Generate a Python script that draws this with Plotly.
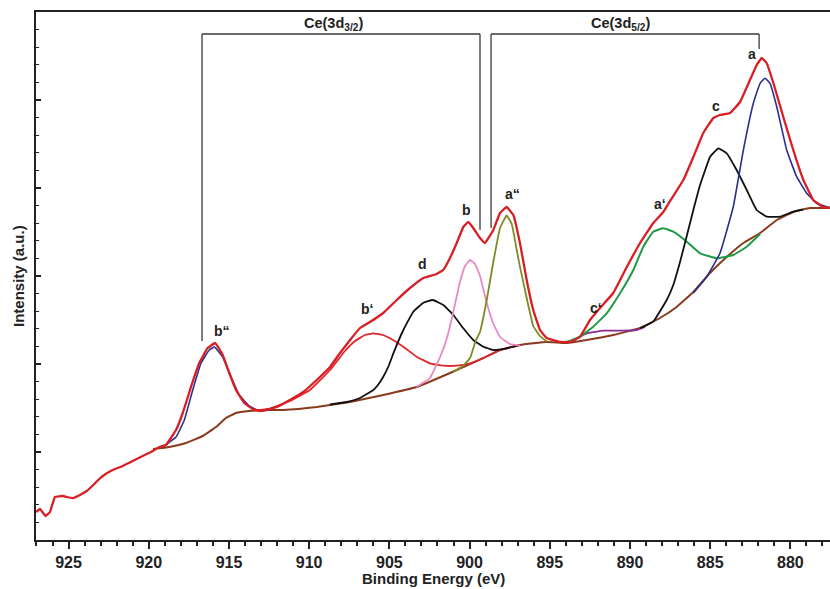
import plotly.graph_objects as go

# ---- Ce 3d XPS spectrum: binding energy (eV) vs intensity (a.u.) ----
env_e = [927.03, 926.78, 926.43, 926.16, 925.85, 925.33, 925.12, 924.70, 924.29, 923.87,
         923.46, 923.15, 922.87, 922.25, 921.62, 921.00, 920.38, 919.86, 919.34, 918.93,
         918.30, 917.88, 917.37, 916.85, 916.33, 915.85, 915.39, 914.98, 914.56, 914.04,
         913.52, 913.00, 912.49, 912.02, 911.20, 910.37, 909.53, 908.70, 908.08, 907.45,
         906.83, 906.21, 905.38, 904.54, 903.71, 902.88, 902.05, 901.64, 901.22, 900.80,
         900.39, 900.08, 899.77, 899.35, 899.04, 898.52, 898.10, 897.69, 897.27, 896.86,
         896.44, 896.03, 895.61, 895.19, 894.36, 893.74, 893.12, 892.49, 891.87, 891.04,
         890.20, 889.37, 888.55, 887.92, 887.50, 886.67, 886.05, 885.43, 884.80, 884.39,
         883.76, 883.14, 882.52, 882.10, 881.79, 881.48, 881.06, 880.44, 879.82, 879.19,
         878.57, 877.95, 877.53]
env_i = [28, 31, 24, 28, 43, 44, 43, 42, 45, 49,
         55, 60, 64, 70, 74, 79, 84, 88, 93, 95,
         110, 127, 153, 177, 192, 197, 185, 167, 150, 137,
         131, 129, 131, 133, 140, 148, 160, 173, 187, 200,
         212, 218, 227, 240, 252, 262, 266, 270, 282, 297,
         313, 318, 312, 302, 297, 310, 327, 333, 325, 297,
         260, 230, 210, 202, 198, 198, 203, 220, 232, 247,
         273, 297, 317, 328, 339, 360, 383, 407, 422, 425,
         427, 438, 460, 475, 482, 477, 457, 423, 390, 360,
         340, 333, 332]

# Shirley-type background
bg_e = [919.74, 918.72, 917.68, 916.64, 915.81, 915.19, 914.56, 913.73, 912.49, 911.63,
        909.53, 907.45, 905.38, 903.30, 901.22, 899.14, 898.10, 896.86, 895.19, 893.94,
        892.70, 891.04, 889.37, 888.13, 887.09, 886.05, 885.01, 883.97, 882.93, 881.89,
        880.85, 879.82, 878.78, 877.53]
bg_i = [91, 93, 97, 104, 113, 122, 127, 129, 130, 130,
        133, 138, 145, 153, 167, 182, 190, 195, 198, 197,
        200, 205, 212, 222, 233, 248, 267, 283, 297, 307,
        320, 328, 332, 332]

# fitted components
bpp_e = [919.13, 918.30, 917.78, 917.26, 916.74, 916.23, 915.91, 915.39, 914.87, 914.36,
         913.73, 913.11, 912.49]
bpp_i = [93, 103, 120, 150, 177, 190, 193, 183, 163, 145, 134, 129, 130]

bp_e = [913.50, 912.44, 911.20, 909.95, 908.70, 907.77, 907.14, 906.52, 906.00, 905.40,
        904.96, 904.13, 903.30, 902.47, 901.64, 900.80, 899.97, 899.14, 898.10, 896.86]
bp_i = [129.5, 131.5, 139, 150, 170, 189, 199, 205, 206.7, 205,
        201.7, 193.3, 183.3, 176.7, 174.3, 174.3, 176.7, 182, 190, 195]

d_e = [908.70, 907.66, 906.83, 906.00, 905.69, 905.38, 905.06, 904.75, 904.13, 903.51,
       902.88, 902.30, 901.64, 901.01, 900.39, 899.77, 899.14, 898.52, 897.69, 896.86]
d_i = [135.5, 138, 142, 150, 155.5, 163.3, 173.5, 186.7, 210, 228.3,
       237.3, 240, 235, 225, 211.7, 200, 193.3, 190, 191.7, 195]

b_e = [903.30, 902.47, 901.84, 901.41, 901.03, 900.60, 900.28, 899.97, 899.66, 899.35,
       898.91, 898.54, 898.10, 897.48, 896.86]
b_i = [153.3, 162, 183, 202, 227, 258, 274, 280, 276, 264,
       236, 217, 203, 196, 194.5]

app_e = [901.03, 900.41, 899.97, 899.60, 899.35, 898.93, 898.52, 898.10, 897.69, 897.37,
         897.06, 896.86, 896.44, 896.03, 895.61, 895.19]
app_i = [168, 174, 182, 200, 208, 240, 278, 312, 324.5, 316,
         290, 273.3, 242, 214, 204, 198.5]

cp_e = [893.94, 893.53, 892.70, 891.66, 890.62, 889.58, 889.06]
cp_i = [197.3, 200, 206.7, 209.3, 209.3, 210, 213]

ap_e = [894.36, 893.94, 893.12, 892.29, 891.45, 890.62, 889.79, 889.17, 888.55, 887.92,
        887.30, 886.46, 885.63, 884.59, 883.56, 882.72, 881.89]
ap_i = [197.7, 198.3, 203.3, 213.3, 226.7, 246.7, 270, 293.3, 308.3, 311.7,
        308.3, 298.3, 286.7, 281.7, 285, 293.3, 306]

c_e = [889.37, 888.55, 887.71, 887.30, 886.88, 886.46, 886.05, 885.63, 885.01, 884.49,
       883.97, 883.35, 882.72, 882.10, 881.48, 880.65, 879.82, 879.21]
c_i = [211.7, 218.3, 240, 255, 278, 304, 330, 355, 383, 391.7,
       386.7, 370, 350, 330, 323.3, 323.3, 328.3, 330.5]

a_e = [886.05, 885.22, 884.39, 883.56, 882.93, 882.31, 881.89, 881.58, 881.27, 880.85,
       880.23, 879.61, 878.98, 878.36, 877.74, 877.53]
a_i = [247, 263.3, 286.7, 333.3, 390, 436.7, 456.7, 461.7, 456.7, 433.3,
       390, 363.3, 346.7, 336.7, 333.3, 332.5]

# peak labels: text, energy, intensity
peak_labels = ["a", "c", "a\u2018", "c\u2018", "a\u201c", "b", "d", "b\u2018", "b\u201c"]
peak_label_e = [882.41, 884.64, 888.13, 892.10, 897.35, 900.18, 902.92, 906.41, 915.45]
peak_label_i = [486, 434, 336, 232, 346, 330, 276, 231, 209]

# spin-orbit brackets: [text, left E, right E, top I, left foot I, right foot I]
brackets = [
    ("Ce(3d<sub>3/2</sub>)", 916.68, 899.35, 506, 199, 310),
    ("Ce(3d<sub>5/2</sub>)", 898.66, 881.95, 506, 312, 491),
]
bracket_text_e = [908.51, 890.56]
bracket_text_i = 516

FONT = "Liberation Sans, Arial, sans-serif"

fig = go.Figure()

components = [
    (bg_e, bg_i, "#8a3a1c", 2.0),
    (bpp_e, bpp_i, "#2b2f8f", 1.6),
    (bp_e, bp_i, "#e0262a", 1.8),
    (d_e, d_i, "#111111", 1.8),
    (b_e, b_i, "#e889c4", 1.8),
    (app_e, app_i, "#7f8b22", 1.8),
    (cp_e, cp_i, "#8c2a98", 1.8),
    (ap_e, ap_i, "#1f9a45", 2.0),
    (c_e, c_i, "#111111", 1.8),
    (a_e, a_i, "#2b2f8f", 1.6),
]
for xe, yi, col, w in components:
    fig.add_trace(go.Scatter(x=xe, y=yi, mode="lines",
                             line=dict(color=col, width=w, shape="spline", smoothing=0.3),
                             hoverinfo="skip", showlegend=False))

fig.add_trace(go.Scatter(x=env_e, y=env_i, mode="lines",
                         line=dict(color="#d81e24", width=2.3, shape="spline", smoothing=0.25),
                         hoverinfo="skip", showlegend=False))

for txt, e, i in zip(peak_labels, peak_label_e, peak_label_i):
    fig.add_annotation(x=e, y=i, xref="x", yref="y", text="<b>%s</b>" % txt,
                       showarrow=False, font=dict(family=FONT, size=14, color="#222"))

for (txt, e_left, e_right, top, foot_l, foot_r), te in zip(brackets, bracket_text_e):
    for x0, y0, x1, y1 in [(e_left, foot_l, e_left, top), (e_left, top, e_right, top),
                           (e_right, top, e_right, foot_r)]:
        fig.add_shape(type="line", x0=x0, y0=y0, x1=x1, y1=y1, xref="x", yref="y",
                      line=dict(color="#3a3a3a", width=1.3))
    fig.add_annotation(x=te, y=bracket_text_i, xref="x", yref="y", text="<b>%s</b>" % txt,
                       showarrow=False, font=dict(family=FONT, size=14.5, color="#222"))

fig.add_annotation(x=0.5, y=-0.072, xref="paper", yref="paper",
                   xanchor="center", yanchor="middle",
                   text="<b>Binding Energy (eV)</b>", showarrow=False,
                   font=dict(family=FONT, size=15, color="#222"))
fig.add_annotation(x=-0.0227, y=0.5, xref="paper", yref="paper", textangle=-90,
                   xanchor="center", yanchor="middle",
                   text="<b>Intensity (a.u.)</b>", showarrow=False,
                   font=dict(family=FONT, size=15, color="#222"))

tick_vals = [925, 920, 915, 910, 905, 900, 895, 890, 885, 880]

fig.update_layout(
    width=830, height=589,
    margin=dict(l=36, r=0, t=12, b=49),
    paper_bgcolor="white", plot_bgcolor="white",
    font=dict(family=FONT, color="#222"),
    xaxis=dict(range=[927.03, 877.53], tickvals=tick_vals,
               ticktext=["<b>%d</b>" % v for v in tick_vals],
               ticks="outside", ticklen=7, tickwidth=2, tickcolor="#222",
               minor=dict(dtick=1, ticks="outside", ticklen=4, tickwidth=1.5, tickcolor="#222"),
               showline=True, linecolor="#222", linewidth=2, mirror=True,
               showgrid=False, zeroline=False, tickfont=dict(family=FONT, size=16, color="#222")),
    yaxis=dict(range=[0, 528], dtick=88, tick0=0, showticklabels=False,
               ticks="inside", ticklen=5, tickwidth=1.5, tickcolor="#222",
               minor=dict(dtick=17.6, ticks="inside", ticklen=3, tickwidth=1.2, tickcolor="#222"),
               showline=True, linecolor="#222", linewidth=2,
               showgrid=False, zeroline=False),
)

fig.write_html("out.html")
